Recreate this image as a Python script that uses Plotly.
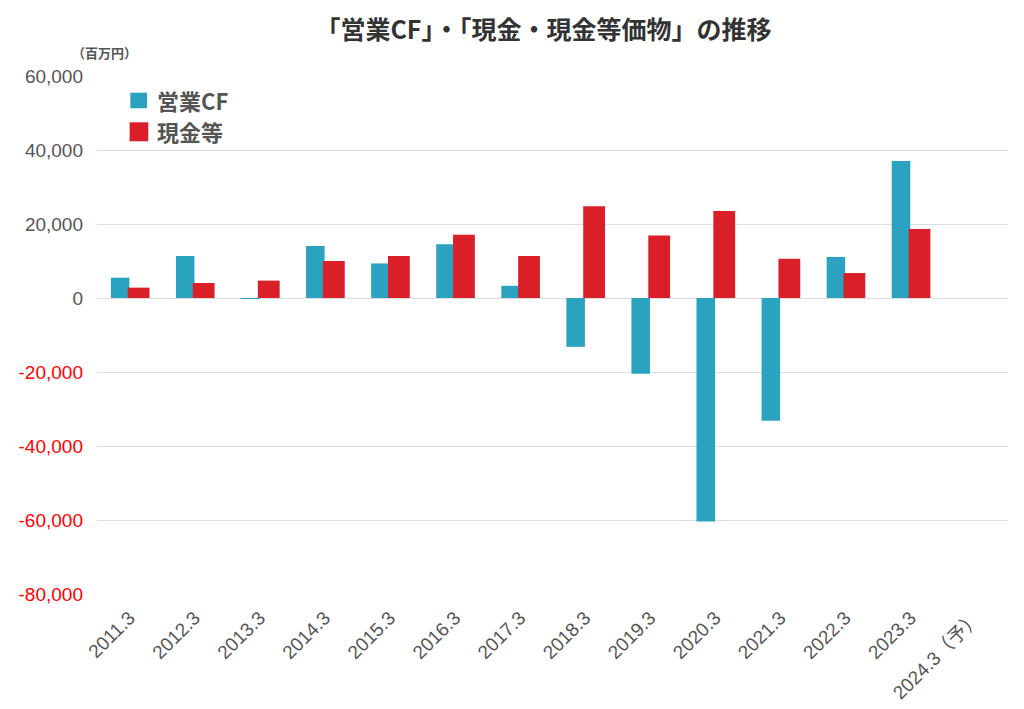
import plotly.graph_objects as go

categories = ["2011.3", "2012.3", "2013.3", "2014.3", "2015.3", "2016.3", "2017.3",
              "2018.3", "2019.3", "2020.3", "2021.3", "2022.3", "2023.3", "2024.3（予）"]
operating_cf = [5500, 11350, -200, 14050, 9350, 14500, 3300,
                -13200, -20500, -60400, -33200, 11100, 37000, None]
cash_equiv = [2800, 4050, 4700, 10000, 11350, 17100, 11350,
              24800, 16900, 23500, 10600, 6750, 18650, None]

y_ticks = [60000, 40000, 20000, 0, -20000, -40000, -60000, -80000]
series_names = ["営業CF", "現金等"]

BLUE = "#2BA3C0"
RED = "#DA1F28"
FONT = "Liberation Sans, Noto Sans CJK JP, sans-serif"
CJK = "Noto Sans CJK JP, sans-serif"


def fmt(v):
    s = f"{abs(v):,}"
    if v < 0:
        return f'<span style="color:#FF0000">-{s}</span>'
    return s


fig = go.Figure()
fig.add_trace(go.Bar(
    x=categories, y=operating_cf, name=series_names[0],
    marker=dict(color=BLUE, line=dict(width=0)),
    width=0.285, offset=-0.287, showlegend=False,
))
fig.add_trace(go.Bar(
    x=categories, y=cash_equiv, name=series_names[1],
    marker=dict(color=RED, line=dict(width=0)),
    width=0.335, offset=-0.028, showlegend=False,
))

# manual legend (squares + labels), in paper coordinates
legend_shapes = [
    dict(type="rect", xref="paper", yref="paper", x0=0.0366, x1=0.0549,
         y0=0.9377, y1=0.9678, fillcolor=BLUE, line=dict(width=0)),
    dict(type="rect", xref="paper", yref="paper", x0=0.0358, x1=0.0563,
         y0=0.874, y1=0.9106, fillcolor=RED, line=dict(width=0)),
]
legend_ann = [
    dict(text=f"<b>{series_names[0]}</b>", xref="paper", yref="paper", x=0.064, y=0.9537,
         xanchor="left", yanchor="middle", showarrow=False,
         font=dict(family=CJK, size=22, color="#555555")),
    dict(text=f"<b>{series_names[1]}</b>", xref="paper", yref="paper", x=0.064, y=0.894,
         xanchor="left", yanchor="middle", showarrow=False,
         font=dict(family=CJK, size=22, color="#555555")),
]

fig.update_layout(
    width=1016, height=701,
    paper_bgcolor="white", plot_bgcolor="white",
    margin=dict(l=89, r=16, t=68, b=115),
    barmode="overlay",
    showlegend=False,
    title=dict(
        text="<b>「営業CF」・「現金・現金等価物」の推移</b>",
        x=0.527, xanchor="center", y=0.9686, yanchor="middle",
        font=dict(family=CJK, size=25, color="#333333"),
    ),
    xaxis=dict(
        type="category", tickangle=-45, automargin=False,
        tickfont=dict(family=FONT, size=19, color="#555555"),
        showgrid=False, showline=False, ticks="",
        range=[-0.5, 13.5], ticklabelstandoff=8,
    ),
    yaxis=dict(
        range=[-80000, 60000], automargin=False,
        tickvals=y_ticks, ticktext=[fmt(v) for v in y_ticks],
        tickfont=dict(family=FONT, size=19, color="#555555"),
        gridcolor="#DDDDDD", gridwidth=1,
        zeroline=True, zerolinecolor="#DDDDDD", zerolinewidth=1,
        showline=False, ticks="", ticklabelstandoff=13,
    ),
    shapes=legend_shapes,
    annotations=legend_ann + [dict(
        text="<b>（百万円）</b>", xref="paper", yref="paper",
        x=0.008, y=1.046, xanchor="center", yanchor="middle",
        showarrow=False, font=dict(family=CJK, size=13, color="#555555"),
    )],
)

fig.write_html("out.html")
